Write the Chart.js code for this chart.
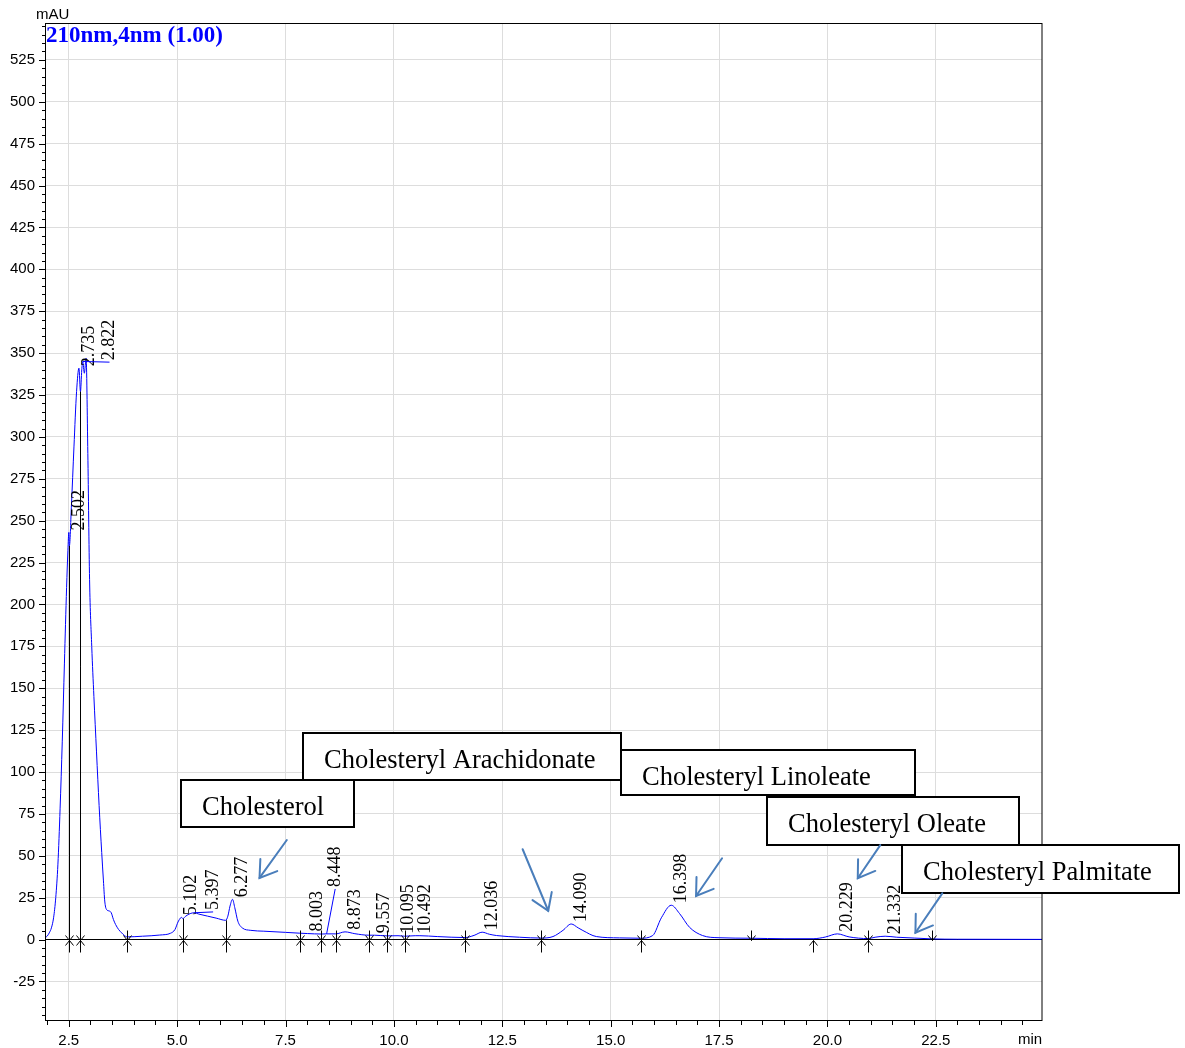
<!DOCTYPE html>
<html>
<head>
<meta charset="utf-8">
<title>Chromatogram 210nm</title>
<script src="https://cdn.jsdelivr.net/npm/chart.js@4.4.1/dist/chart.umd.min.js"></script>
<style>
  html, body { margin: 0; padding: 0; background: #fff; }
</style>
</head>
<body>
<canvas id="chromChart" width="1185" height="1048"></canvas>
<script>
// detector trace, 210nm,4nm (retention time in min, absorbance in mAU)
const times = [1.96, 2.00, 2.05, 2.10, 2.15, 2.20, 2.25, 2.30, 2.35, 2.40, 2.45, 2.48, 2.502, 2.515, 2.56, 2.62, 2.68, 2.735, 2.77, 2.80,
  2.822, 2.86, 2.90, 2.94, 2.98, 3.03, 3.08, 3.14, 3.20, 3.26, 3.30, 3.33, 3.37, 3.44, 3.48, 3.53, 3.58, 3.65, 3.72, 3.78,
  3.85, 4.20, 4.60, 4.85, 4.95, 5.02, 5.08, 5.102, 5.13, 5.20, 5.30, 5.397, 5.50, 5.70, 5.90, 6.12, 6.17, 6.22, 6.277, 6.33,
  6.40, 6.50, 6.70, 7.00, 7.50, 7.83, 8.003, 8.33, 8.448, 8.66, 8.873, 9.10, 9.42, 9.557, 9.84, 10.095, 10.25, 10.492, 10.60, 11.00,
  11.64, 11.85, 12.036, 12.20, 12.37, 12.90, 13.39, 13.67, 13.90, 14.090, 14.25, 14.36, 14.67, 15.20, 15.69, 15.97, 16.17, 16.398, 16.59, 16.82,
  17.12, 17.50, 18.24, 19.00, 19.67, 19.95, 20.229, 20.50, 20.94, 21.10, 21.332, 21.60, 22.00, 22.42, 23.00, 24.96];
const mau = [1.2, 2, 4, 7, 13, 25, 45, 78, 118, 165, 210, 232, 243, 235, 258, 294, 327, 341, 327, 340,
  345, 338, 347, 290, 215, 175, 145, 112, 80, 52, 35, 23, 18, 17, 16, 12, 9, 6, 4, 2.5,
  1.6, 2.0, 2.7, 3.8, 6, 10.5, 13, 13.3, 12.5, 14, 15.5, 16, 15.2, 14, 12.8, 11.5, 14, 20, 24, 19,
  11, 7, 5.5, 5, 4.3, 3.8, 3.6, 3.3, 3.4, 3.4, 4.6, 3.5, 2.6, 2.6, 2.2, 2.3, 2.0, 2.3, 2.3, 1.8,
  1.2, 2.5, 4.4, 3.2, 2.4, 1.4, 0.9, 1.8, 5.5, 9.3, 7, 5.4, 1.8, 1.0, 0.8, 2.4, 13, 20.5, 15.5, 7.3,
  2.4, 1.1, 0.8, 0.5, 0.5, 1.5, 3.4, 1.6, 0.6, 1.4, 2.0, 1.4, 0.9, 0.4, 0.2, 0.1];

// detected peaks (retention times)
const peakTimes = [2.502, 2.735, 2.822, 5.102, 5.397, 6.277, 8.003, 8.448, 8.873, 9.557, 10.095, 10.492,
  12.036, 14.090, 16.398, 20.229, 21.332];

// integration marks: b = start/end, d = down only, u = up only
const markTimes = [2.515, 2.77, 3.85, 5.13, 6.12, 7.83, 8.33, 8.66, 9.42, 9.84, 10.25, 11.64, 13.39, 15.69,
  18.24, 19.67, 20.94, 22.42];
const markTypes = ['b', 'b', 'b', 'b', 'b', 'b', 'b', 'b', 'b', 'b', 'b', 'b', 'b', 'b', 'd', 'u', 'b', 'd'];

// axis tick values
const xTicks = [];
for (let i = 4; i <= 49; i++) xTicks.push(i * 0.5);
const yTicks = [];
for (let i = -9; i <= 109; i++) yTicks.push(i * 5);

// peak labels moved off the apex (label point in min / mAU), joined by a leader line
const movedLabels = {
  '2.822': [3.44, 344.6],
  '5.397': [5.83, 16.5],
  '8.448': [8.646, 30.2]
};

// compound callouts: box [left, top, right, bottom] and arrow [from x, from y, to x, to y], in min / mAU
const callouts = [
  { text: 'Cholesterol', box: [5.09, 95.2, 9.07, 67.0], arrow: [7.53, 59.4, 6.90, 36.8] },
  { text: 'Cholesteryl Arachidonate', box: [7.90, 123.4, 15.23, 95.2], arrow: [12.97, 53.9, 13.56, 17.2] },
  { text: 'Cholesteryl Linoleate', box: [15.24, 113.4, 22.01, 86.0], arrow: [17.57, 48.5, 16.97, 26.0] },
  { text: 'Cholesteryl Oleate', box: [18.61, 85.1, 24.43, 56.4], arrow: [21.22, 56.4, 20.70, 36.6] },
  { text: 'Cholesteryl Palmitate', box: [21.72, 56.4, 28.10, 27.6], arrow: [22.65, 27.6, 22.03, 4.1] }
];

const SANS = '"Liberation Sans", Arial, sans-serif';
const SERIF = '"Liberation Serif", "Times New Roman", serif';

function traceAt(t) {
  for (let i = 1; i < times.length; i++) {
    if (times[i] >= t) {
      const f = (t - times[i - 1]) / (times[i] - times[i - 1]);
      return mau[i - 1] + f * (mau[i] - mau[i - 1]);
    }
  }
  return mau[mau.length - 1];
}

const isMult = (v, step) => Math.abs(Math.round(v / step) * step - v) < 1e-9;

function line(ctx, x1, y1, x2, y2) {
  ctx.beginPath();
  ctx.moveTo(x1, y1);
  ctx.lineTo(x2, y2);
  ctx.stroke();
}

const decor = {
  id: 'decor',
  afterDatasetsDraw(chart) {
    const { ctx, chartArea: a, scales: { x, y } } = chart;
    const px = t => x.getPixelForValue(t);
    const py = v => y.getPixelForValue(v);
    const y0 = Math.round(py(0)) + 0.5;

    ctx.save();
    ctx.lineWidth = 1;
    ctx.strokeStyle = '#000';

    // plot frame
    ctx.strokeRect(a.left - 0.5, a.top + 0.5, a.right - a.left + 0.5, a.bottom - a.top);

    // tick marks
    yTicks.forEach(v => {
      const yy = Math.round(py(v)) + 0.5;
      line(ctx, a.left - (isMult(v, 25) ? 7 : 4), yy, a.left, yy);
    });
    xTicks.forEach(t => {
      const xx = Math.round(px(t)) + 0.5;
      line(ctx, xx, a.bottom, xx, a.bottom + (isMult(t, 2.5) ? 7 : 5));
    });

    // integration marks and drop lines
    markTimes.forEach((t, i) => {
      const type = markTypes[i];
      const xm = Math.round(px(t)) + 0.5;
      if (type === 'b' || type === 'd') {
        line(ctx, xm, y0 - 10, xm, y0);
        ctx.beginPath();
        ctx.moveTo(xm - 4, y0 - 5); ctx.lineTo(xm, y0); ctx.lineTo(xm + 4, y0 - 5);
        ctx.stroke();
      }
      if (type === 'b' || type === 'u') {
        line(ctx, xm, y0 + 12, xm, y0);
        ctx.beginPath();
        ctx.moveTo(xm - 4, y0 + 5); ctx.lineTo(xm, y0); ctx.lineTo(xm + 4, y0 + 5);
        ctx.stroke();
      }
      if (type === 'b') line(ctx, xm, y0, xm, py(traceAt(t)));
    });

    // retention time labels
    ctx.font = '18px ' + SERIF;
    ctx.fillStyle = '#000';
    ctx.textAlign = 'left';
    ctx.textBaseline = 'middle';
    peakTimes.forEach(t => {
      const label = t.toFixed(3);
      const ax = px(t), ay = py(traceAt(t));
      let lx = ax + 10, ly = ay - 2;
      const moved = movedLabels[label];
      if (moved) {
        const mx = px(moved[0]), my = py(moved[1]);
        ctx.strokeStyle = '#0000ff';
        line(ctx, ax, ay, mx, my);
        lx = mx; ly = my - 2;
      }
      ctx.save();
      ctx.translate(lx, ly);
      ctx.rotate(-Math.PI / 2);
      ctx.fillText(label, 0, 0);
      ctx.restore();
    });
    ctx.restore();
  },
  afterDraw(chart) {
    const { ctx, chartArea: a, scales: { x, y } } = chart;
    const px = t => x.getPixelForValue(t);
    const py = v => y.getPixelForValue(v);
    ctx.save();

    // compound callouts
    callouts.forEach(c => {
      const l = Math.round(px(c.box[0])), tp = Math.round(py(c.box[1]));
      const r = Math.round(px(c.box[2])), b = Math.round(py(c.box[3]));
      ctx.fillStyle = '#fff';
      ctx.fillRect(l, tp, r - l, b - tp);
      ctx.strokeStyle = '#000';
      ctx.lineWidth = 2;
      ctx.strokeRect(l, tp, r - l, b - tp);
      ctx.fillStyle = '#000';
      ctx.font = '26.5px ' + SERIF;
      ctx.textAlign = 'left';
      ctx.textBaseline = 'alphabetic';
      ctx.fillText(c.text, l + 21, tp + 35);

      const x1 = px(c.arrow[0]), y1 = py(c.arrow[1]);
      const x2 = px(c.arrow[2]), y2 = py(c.arrow[3]);
      const ang = Math.atan2(y1 - y2, x1 - x2);
      const head = 19, spread = 0.58;
      ctx.strokeStyle = '#4a7ebb';
      ctx.lineWidth = 2;
      ctx.lineCap = 'round';
      line(ctx, x1, y1, x2, y2);
      ctx.beginPath();
      ctx.moveTo(x2 + head * Math.cos(ang + spread), y2 + head * Math.sin(ang + spread));
      ctx.lineTo(x2, y2);
      ctx.lineTo(x2 + head * Math.cos(ang - spread), y2 + head * Math.sin(ang - spread));
      ctx.stroke();
    });

    // channel title and axis units
    ctx.fillStyle = '#0000ff';
    ctx.font = 'bold 23px ' + SERIF;
    ctx.textAlign = 'left';
    ctx.textBaseline = 'alphabetic';
    ctx.fillText('210nm,4nm (1.00)', a.left, 42);

    ctx.fillStyle = '#000';
    ctx.font = '15px ' + SANS;
    ctx.textBaseline = 'middle';
    ctx.fillText('mAU', 36, 15);
    ctx.fillText('min', 1018, 1040);
    ctx.restore();
  }
};

new Chart(document.getElementById('chromChart').getContext('2d'), {
  type: 'line',
  data: {
    datasets: [{
      data: times.map((t, i) => ({ x: t, y: mau[i] })),
      borderColor: '#0000ff',
      borderWidth: 1,
      pointRadius: 0,
      fill: false,
      cubicInterpolationMode: 'monotone'
    }]
  },
  options: {
    responsive: false,
    animation: false,
    devicePixelRatio: 1,
    layout: { padding: { top: 23, right: 143, left: 0, bottom: 0 } },
    plugins: { legend: { display: false }, tooltip: { enabled: false } },
    scales: {
      x: {
        type: 'linear',
        min: 1.975,
        max: 24.95,
        afterBuildTicks: s => { s.ticks = xTicks.map(v => ({ value: v })); },
        afterFit: s => { s.height = 28; },
        border: { display: false },
        grid: {
          drawTicks: false,
          color: c => isMult(c.tick.value, 2.5) ? '#dddddd' : 'rgba(0,0,0,0)'
        },
        ticks: {
          autoSkip: false,
          maxRotation: 0,
          padding: 12,
          color: '#000',
          font: { family: SANS, size: 15 },
          callback: v => isMult(v, 2.5) ? v.toFixed(1) : ''
        }
      },
      y: {
        min: -48,
        max: 547,
        afterBuildTicks: s => { s.ticks = yTicks.map(v => ({ value: v })); },
        afterFit: s => { s.width = 46; },
        border: { display: false },
        grid: {
          drawTicks: false,
          color: c => c.tick.value === 0 ? '#000' : (isMult(c.tick.value, 25) ? '#dddddd' : 'rgba(0,0,0,0)')
        },
        ticks: {
          autoSkip: false,
          padding: 11,
          color: '#000',
          font: { family: SANS, size: 15 },
          callback: v => isMult(v, 25) ? String(v) : ''
        }
      }
    }
  },
  plugins: [decor]
});
</script>
</body>
</html>
